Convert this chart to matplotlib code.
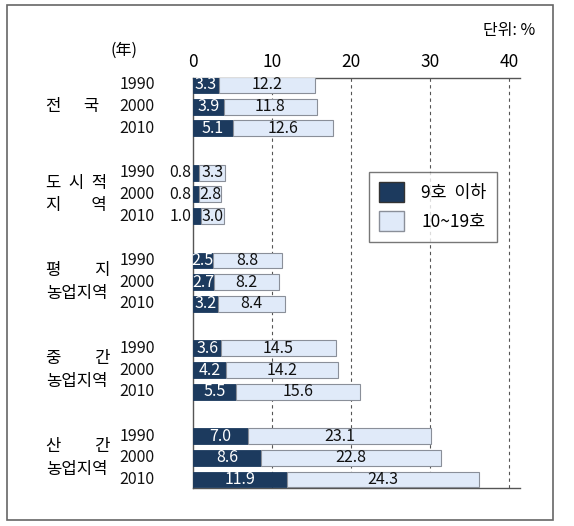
import numpy as np
import matplotlib.pyplot as plt
from matplotlib.patches import Rectangle

plt.rcParams['font.family'] = ['Noto Sans CJK KR', 'DejaVu Sans']

groups = ['전      국', '도  시  적\n지        역', '평         지\n농업지역', '중         간\n농업지역', '산         간\n농업지역']
years = ['1990', '2000', '2010']
small = [[3.3, 3.9, 5.1], [0.8, 0.8, 1.0], [2.5, 2.7, 3.2], [3.6, 4.2, 5.5], [7.0, 8.6, 11.9]]
mid = [[12.2, 11.8, 12.6], [3.3, 2.8, 3.0], [8.8, 8.2, 8.4], [14.5, 14.2, 15.6], [23.1, 22.8, 24.3]]
legend_labels = ['9호  이하', '10~19호']
ticks = [0, 10, 20, 30, 40]

dark = '#1c3a5e'
light = '#e0eaf9'

fig = plt.figure(figsize=(5.74, 5.26), dpi=100)
ax = fig.add_axes([0.336, 0.072, 0.57, 0.78])

# outer frame
fig.patches.append(Rectangle((7/574, 1-520/526), 546/574, 515/526, transform=fig.transFigure,
                             fill=False, edgecolor='#666666', linewidth=1.2))

step = 4.08
for g in range(len(groups)):
    for i in range(3):
        y = 0.33 + g*step + i*1.01
        s = small[g][i]
        m = mid[g][i]
        ax.barh(y, s, height=0.74, color=dark, edgecolor=dark, linewidth=0.6, zorder=3)
        ax.barh(y, m, left=s, height=0.74, color=light, edgecolor='#8a8f99', linewidth=0.8, zorder=3)
        if s < 2:
            ax.text(-0.15, y, f'{s:.1f}', ha='right', va='center', fontsize=11.5, color='#111111')
        else:
            ax.text(s/2, y, f'{s:.1f}', ha='center', va='center', fontsize=11.5, color='white', zorder=4)
        ax.text(s + m/2, y, f'{m:.1f}', ha='center', va='center', fontsize=11.5, color='#111111', zorder=4)
        ax.text(-4.8, y, years[i], ha='right', va='center', fontsize=11.5, color='#111111')
    ax.text(-18.6, 0.33 + g*step + 1.01, groups[g], ha='left', va='center', fontsize=12, linespacing=1.45)

ax.set_xlim(0, 41.4)
ax.set_ylim(19.07, 0)
ax.xaxis.tick_top()
ax.set_xticks(ticks)
ax.set_xticklabels([str(t) for t in ticks], fontsize=12.5)
ax.tick_params(axis='x', length=0, pad=5)
ax.set_yticks([])
for t in ticks[1:]:
    ax.axvline(t, color='#555555', linestyle=(0, (3, 3)), linewidth=0.8, zorder=1)
ax.spines['right'].set_visible(False)
for sp in ['top', 'left', 'bottom']:
    ax.spines[sp].set_color('#555555')
    ax.spines[sp].set_linewidth(1.0)

ax.text(-7.0, -1.3, '(年)', ha='right', va='center', fontsize=11.5)
fig.text(535/574, 1-30/526, '단위: %', ha='right', va='center', fontsize=11.5)

# legend
lg = ax.legend([Rectangle((0, 0), 1, 1, facecolor=dark, edgecolor='#333333'),
                Rectangle((0, 0), 1, 1, facecolor=light, edgecolor='#8a8f99')],
               legend_labels, loc='upper left', bbox_to_anchor=((369-193)/327, 1-(172-78)/410),
               borderaxespad=0, fontsize=12.5, frameon=True, fancybox=False, edgecolor='#555555',
               handlelength=1.4, handleheight=1.4, borderpad=0.6, labelspacing=0.5, handletextpad=1.0)
lg.get_frame().set_linewidth(1.0)

plt.savefig('out.png', dpi=100)
